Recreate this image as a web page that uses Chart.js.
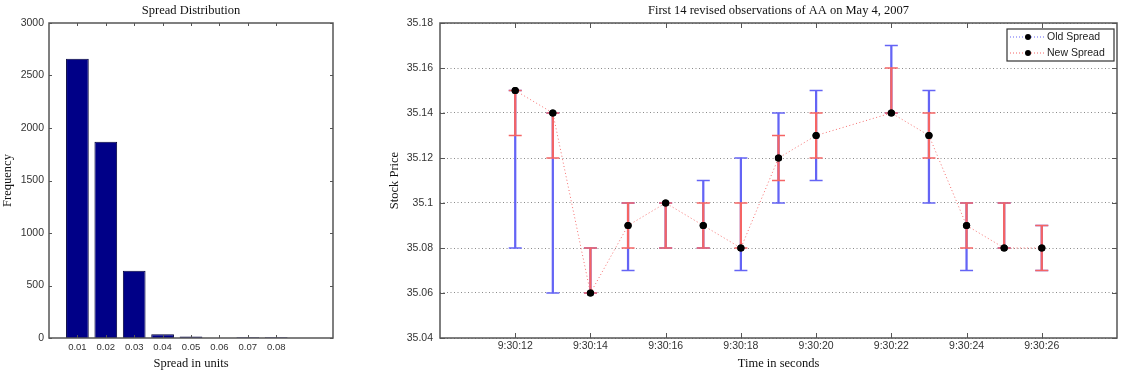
<!DOCTYPE html>
<html><head><meta charset="utf-8">
<script src="https://cdn.jsdelivr.net/npm/chart.js@4.4.0/dist/chart.umd.min.js"></script>
<style>
html,body{margin:0;padding:0;background:#fff;overflow:hidden;width:1132px;height:372px;}
#w1{position:absolute;left:0;top:0;width:345px;height:372px;}
#w2{position:absolute;left:386px;top:0;width:746px;height:372px;}
</style></head><body>
<div id="w1"><canvas id="c1"></canvas></div>
<div id="w2"><canvas id="c2"></canvas></div>
<script>
// ---- Left chart: spread distribution ----
const spreadCategories = [0.01, 0.02, 0.03, 0.04, 0.05, 0.06, 0.07, 0.08];
const spreadFrequency  = [2660, 1870, 640, 35, 15, 0, 8, 8];
const spreadTickLabels = ['0.01','0.02','0.03','0.04','0.05','0.06','0.07','0.08'];
const freqTicks = [0, 500, 1000, 1500, 2000, 2500, 3000];
const freqTickLabels = ['0','500','1000','1500','2000','2500','3000'];

// ---- Right chart: first 14 revised observations ----
const timeSeconds = [12, 13, 14, 15, 16, 17, 18, 19, 20, 22, 23, 24, 25, 26];
const stockPrice  = [35.15, 35.14, 35.06, 35.09, 35.10, 35.09, 35.08, 35.12, 35.13, 35.14, 35.13, 35.09, 35.08, 35.08];
const oldLow      = [35.08, 35.06, 35.06, 35.07, 35.08, 35.08, 35.07, 35.10, 35.11, 35.14, 35.10, 35.07, 35.08, 35.07];
const oldHigh     = [35.15, 35.14, 35.08, 35.10, 35.10, 35.11, 35.12, 35.14, 35.15, 35.17, 35.15, 35.10, 35.10, 35.09];
const newLow      = [35.13, 35.12, 35.06, 35.08, 35.08, 35.08, 35.08, 35.11, 35.12, 35.14, 35.12, 35.08, 35.08, 35.07];
const newHigh     = [35.15, 35.14, 35.08, 35.10, 35.10, 35.10, 35.10, 35.13, 35.14, 35.16, 35.14, 35.10, 35.10, 35.09];
const timeTickValues = [12, 14, 16, 18, 20, 22, 24, 26];
const timeTickLabels = ['9:30:12','9:30:14','9:30:16','9:30:18','9:30:20','9:30:22','9:30:24','9:30:26'];
const priceTickValues = [35.04, 35.06, 35.08, 35.10, 35.12, 35.14, 35.16, 35.18];
const priceTickLabels = ['35.04','35.06','35.08','35.1','35.12','35.14','35.16','35.18'];

const SANS = "'Liberation Sans', Arial, sans-serif";
const SERIF = "'Liberation Serif', 'Times New Roman', serif";
const BLUE = 'rgb(100,100,245)';
const RED = 'rgb(245,100,100)';

function near(a, b) { return Math.abs(a - b) < 1e-6; }
function labelFor(values, labels, v) {
  for (let i = 0; i < values.length; i++) if (near(values[i], v)) return labels[i];
  return '';
}

function frameTicksPlugin(cfg) {
  return {
    id: 'frameTicks',
    afterDatasetsDraw(chart) {
      const ctx = chart.ctx, a = chart.chartArea;
      const xs = chart.scales.x, ys = chart.scales.y;
      ctx.save();
      ctx.strokeStyle = cfg.color;
      ctx.lineWidth = 1;
      ctx.beginPath();
      cfg.xTicks.forEach(v => {
        const px = Math.round(xs.getPixelForValue(v)) + 0.5;
        ctx.moveTo(px, a.bottom); ctx.lineTo(px, a.bottom - cfg.len);
        ctx.moveTo(px, a.top); ctx.lineTo(px, a.top + cfg.len);
      });
      cfg.yTicks.forEach(v => {
        const py = Math.round(ys.getPixelForValue(v)) + 0.5;
        ctx.moveTo(a.left, py); ctx.lineTo(a.left + cfg.len, py);
        ctx.moveTo(a.right, py); ctx.lineTo(a.right - cfg.len, py);
      });
      ctx.stroke();
      ctx.lineWidth = cfg.frameWidth;
      ctx.strokeRect(a.left, a.top, a.right - a.left, a.bottom - a.top);
      ctx.restore();
    }
  };
}

function plotTitlePlugin(text) {
  return {
    id: 'plotTitle',
    afterDraw(chart) {
      const ctx = chart.ctx, a = chart.chartArea;
      ctx.save();
      ctx.fillStyle = '#111';
      ctx.font = '12.5px ' + SERIF;
      ctx.textAlign = 'center';
      ctx.textBaseline = 'middle';
      ctx.fillText(text, (a.left + a.right) / 2, 10.5);
      ctx.restore();
    }
  };
}

// ---------- Chart 1 ----------
new Chart(document.getElementById('c1'), {
  type: 'bar',
  data: {
    datasets: [{
      label: 'Frequency',
      data: spreadCategories.map((x, i) => ({ x: x, y: spreadFrequency[i] })),
      backgroundColor: 'rgb(0,0,135)',
      borderColor: 'rgb(0,0,60)',
      borderWidth: 1,
      barPercentage: 0.8,
      categoryPercentage: 1.0
    }]
  },
  options: {
    responsive: true, maintainAspectRatio: false, animation: false,
    layout: { padding: { left: 0, right: 12, top: 23, bottom: 0 } },
    plugins: { legend: { display: false }, tooltip: { enabled: false }, title: { display: false } },
    scales: {
      x: {
        type: 'linear', min: 0, max: 0.1, offset: false,
        grid: { display: false, drawTicks: false }, border: { display: false },
        afterBuildTicks: s => { s.ticks = spreadCategories.map(v => ({ value: v })); },
        ticks: { autoSkip: false, maxRotation: 0, padding: 4, color: '#333',
                 font: { family: SANS, size: 9.5 },
                 callback: v => labelFor(spreadCategories, spreadTickLabels, v) },
        title: { display: true, text: 'Spread in units', color: '#111',
                 font: { family: SERIF, size: 12.5 }, padding: { top: 0, bottom: 1 } },
        afterFit: s => { s.height = 34; }
      },
      y: {
        min: 0, max: 3000,
        grid: { display: false, drawTicks: false }, border: { display: false },
        afterBuildTicks: s => { s.ticks = freqTicks.map(v => ({ value: v })); },
        ticks: { padding: 5, color: '#333', font: { family: SANS, size: 10.5 },
                 callback: v => labelFor(freqTicks, freqTickLabels, v) },
        title: { display: true, text: 'Frequency', color: '#111',
                 font: { family: SERIF, size: 12.5 }, padding: { top: 0.5, bottom: 0 } },
        afterFit: s => { s.width = 49; }
      }
    }
  },
  plugins: [frameTicksPlugin({ color: '#555', len: 3, frameWidth: 1.5,
                               xTicks: spreadCategories, yTicks: freqTicks }),
            plotTitlePlugin('Spread Distribution')]
});

// ---------- Chart 2 ----------
const capsOf = (lo, hi) => {
  const pts = [];
  timeSeconds.forEach((t, i) => { pts.push({ x: t, y: lo[i] }); pts.push({ x: t, y: hi[i] }); });
  return pts;
};

const legendPlugin = {
  id: 'boxLegend',
  afterDraw(chart) {
    const ctx = chart.ctx, a = chart.chartArea;
    const w = 107, h = 32;
    const x0 = a.right - 3 - w, y0 = a.top + 6;
    ctx.save();
    ctx.fillStyle = '#fff';
    ctx.fillRect(x0, y0, w, h);
    ctx.strokeStyle = '#333'; ctx.lineWidth = 1.2;
    ctx.strokeRect(x0, y0, w, h);
    const items = [{ text: 'Old Spread', color: BLUE, y: y0 + 8 }, { text: 'New Spread', color: RED, y: y0 + 24 }];
    items.forEach(it => {
      ctx.strokeStyle = it.color; ctx.lineWidth = 1; ctx.setLineDash([1, 2]);
      ctx.beginPath(); ctx.moveTo(x0 + 3, it.y); ctx.lineTo(x0 + 38, it.y); ctx.stroke();
      ctx.setLineDash([]);
      ctx.fillStyle = '#000';
      ctx.beginPath(); ctx.arc(x0 + 21, it.y, 3, 0, Math.PI * 2); ctx.fill();
      ctx.fillStyle = '#222';
      ctx.font = '10.5px ' + SANS;
      ctx.textBaseline = 'middle'; ctx.textAlign = 'left';
      ctx.fillText(it.text, x0 + 40, it.y);
    });
    ctx.restore();
  }
};

new Chart(document.getElementById('c2'), {
  type: 'bar',
  data: {
    datasets: [
      { type: 'line', label: 'New Spread', data: timeSeconds.map((t, i) => ({ x: t, y: stockPrice[i] })),
        borderColor: 'rgb(245,110,110)', borderWidth: 1, borderDash: [1, 2.5], tension: 0,
        pointRadius: 3.6, pointBackgroundColor: '#000', pointBorderColor: '#000', pointBorderWidth: 0, order: 0 },
      { type: 'line', label: 'Old Spread', data: timeSeconds.map((t, i) => ({ x: t, y: stockPrice[i] })),
        showLine: false, borderColor: BLUE,
        pointRadius: 3.6, pointBackgroundColor: '#000', pointBorderColor: '#000', pointBorderWidth: 0, order: 1 },
      { type: 'line', label: 'New caps', data: capsOf(newLow, newHigh), showLine: false,
        pointStyle: 'line', pointRadius: 6.5, borderColor: RED, pointBorderColor: RED, pointBorderWidth: 1.5, order: 2 },
      { type: 'bar', label: 'New range', data: timeSeconds.map((t, i) => ({ x: t, y: [newLow[i], newHigh[i]] })),
        backgroundColor: RED, borderWidth: 0, barThickness: 1.6, grouped: false, order: 3 },
      { type: 'line', label: 'Old caps', data: capsOf(oldLow, oldHigh), showLine: false,
        pointStyle: 'line', pointRadius: 6.5, borderColor: BLUE, pointBorderColor: BLUE, pointBorderWidth: 1.5, order: 4 },
      { type: 'bar', label: 'Old range', data: timeSeconds.map((t, i) => ({ x: t, y: [oldLow[i], oldHigh[i]] })),
        backgroundColor: BLUE, borderWidth: 0, barThickness: 1.6, grouped: false, order: 5 }
    ]
  },
  options: {
    responsive: true, maintainAspectRatio: false, animation: false,
    layout: { padding: { left: 0, right: 15, top: 23, bottom: 0 } },
    plugins: { legend: { display: false }, tooltip: { enabled: false }, title: { display: false } },
    scales: {
      x: {
        type: 'linear', min: 10, max: 28, offset: false,
        grid: { display: false, drawTicks: false, offset: false }, border: { display: false },
        afterBuildTicks: s => { s.ticks = timeTickValues.map(v => ({ value: v })); },
        ticks: { autoSkip: false, maxRotation: 0, padding: 2, color: '#333',
                 font: { family: SANS, size: 10.5 },
                 callback: v => labelFor(timeTickValues, timeTickLabels, v) },
        title: { display: true, text: 'Time in seconds', color: '#111',
                 font: { family: SERIF, size: 12.5 }, padding: { top: 0, bottom: 1 } },
        afterFit: s => { s.height = 34; }
      },
      y: {
        min: 35.04, max: 35.18,
        grid: { display: true, drawTicks: false, color: '#8a8a8a', lineWidth: 1 },
        border: { display: false, dash: [1, 2.5] },
        afterBuildTicks: s => { s.ticks = priceTickValues.map(v => ({ value: v })); },
        ticks: { padding: 7, color: '#333', font: { family: SANS, size: 10.5 },
                 callback: v => labelFor(priceTickValues, priceTickLabels, v) },
        title: { display: true, text: 'Stock Price', color: '#111',
                 font: { family: SERIF, size: 12.5 }, padding: { top: 1, bottom: 0 } },
        afterFit: s => { s.width = 54; }
      }
    }
  },
  plugins: [frameTicksPlugin({ color: '#555', len: 5, frameWidth: 1.5,
                               xTicks: timeTickValues, yTicks: priceTickValues }),
            legendPlugin,
            plotTitlePlugin('First 14 revised observations of AA on May 4, 2007')]
});
</script>
</body></html>
